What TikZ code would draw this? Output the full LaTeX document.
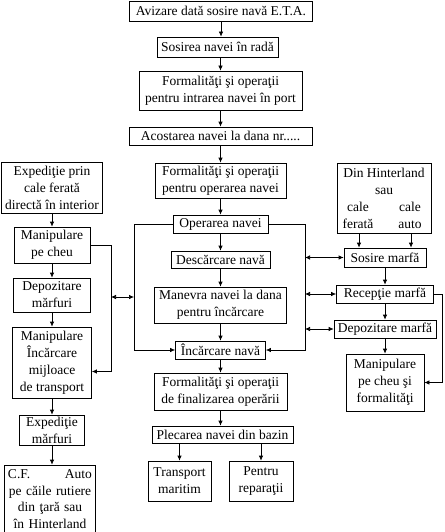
\documentclass[tikz,border=0pt]{standalone}
\usepackage{fontspec}
\setmainfont{Liberation Serif}
\usepackage{tikz}
\usetikzlibrary{
    calc,positioning,arrows.meta,shadows
}
\tikzset{
    >={Latex[length=5pt,width=4.5pt]},
    etapa/.style={
        rectangle,
        draw=black,
        line width=0.7pt,
        fill=white,
        drop shadow={shadow xshift=0.9pt,shadow yshift=-0.9pt,fill=black,opacity=0.5},
        inner sep=1.5pt,
        align=center,
        font={\fontsize{13.5pt}{17pt}\selectfont}
    },
    flux/.style={draw, line width=0.7pt, ->},
    dublu/.style={draw, line width=0.7pt, <->},
}

\begin{document}
\begin{tikzpicture}[x=1pt,y=-1pt]
\useasboundingbox (0,0) rectangle (444,532);

% coloana centrala
\node[etapa,minimum width=183pt,minimum height=20pt] (aviz) at (221,11) {Avizare dată sosire navă E.T.A.};
\node[etapa,minimum width=121pt,minimum height=20pt] (rada) at (217.5,47) {Sosirea navei în radă};
\node[etapa,minimum width=163pt,minimum height=39pt] (intrare) at (220.5,90.5) {Formalităţi şi operaţii\\pentru intrarea navei în port};
\node[etapa,minimum width=183pt,minimum height=18pt] (acostare) at (220.5,136) {Acostarea navei la dana nr.....};
\node[etapa,minimum width=131pt,minimum height=35pt] (opform) at (220.5,180.5) {Formalităţi şi operaţii\\pentru operarea navei};
\node[etapa,minimum width=95pt,minimum height=18pt] (operarea) at (220.5,224) {Operarea navei};
\node[etapa,minimum width=99pt,minimum height=17pt] (descarcare) at (220.5,259.5) {Descărcare navă};
\node[etapa,minimum width=132pt,minimum height=36pt] (manevra) at (220.5,305) {Manevra navei la dana\\pentru încărcare};
\node[etapa,minimum width=90pt,minimum height=18pt] (incarcare) at (220.5,350) {Încărcare navă};
\node[etapa,minimum width=133pt,minimum height=37pt] (final) at (220.5,391.5) {Formalităţi şi operaţii\\de finalizarea operării};
\node[etapa,minimum width=141pt,minimum height=17pt] (plecare) at (222.5,434.5) {Plecarea navei din bazin};
\node[etapa,minimum width=63pt,minimum height=40pt] (transport) at (179.5,481) {Transport\\maritim};
\node[etapa,minimum width=64pt,minimum height=40pt] (reparatii) at (261,481) {Pentru\\reparaţii};

% coloana stanga
\node[etapa,minimum width=101pt,minimum height=51pt] (expcf) at (52,187.5) {Expediţie prin\\cale ferată\\directă în interior};
\node[etapa,minimum width=76pt,minimum height=36pt] (manipcheu) at (52,245) {Manipulare\\pe cheu};
\node[etapa,minimum width=77pt,minimum height=34pt] (depoz) at (52,295) {Depozitare\\mărfuri};
\node[etapa,minimum width=79pt,minimum height=71pt] (manipinc) at (52,362.5) {Manipulare\\Încărcare\\mijloace\\de transport};
\node[etapa,minimum width=65pt,minimum height=30pt] (expmarf) at (52,430) {Expediţie\\mărfuri};
\node[etapa,minimum width=91pt,minimum height=68pt,text width=84pt,font={\fontsize{13.5pt}{16.5pt}\selectfont}] (cfauto) at (50,499) {C.F.\hfill Auto\\pe căile rutiere\\din ţară sau\\în Hinterland};

% coloana dreapta
\node[etapa,minimum width=94pt,minimum height=70pt] (hinter) at (384,198) {Din Hinterland\\sau\\\makebox[0pt]{cale}\hspace{52pt}\makebox[0pt]{cale}\\\makebox[0pt]{ferată}\hspace{52pt}\makebox[0pt]{auto}};
\node[etapa,minimum width=82pt,minimum height=19pt] (sosire) at (385,257.5) {Sosire marfă};
\node[etapa,minimum width=97pt,minimum height=18pt] (receptie) at (385,294) {Recepţie marfă};
\node[etapa,minimum width=102pt,minimum height=18pt] (depmarfa) at (385,329) {Depozitare marfă};
\node[etapa,minimum width=78pt,minimum height=57pt] (manipform) at (385,382.5) {Manipulare\\pe cheu şi\\formalităţi};

\coordinate (busst) at (134,224);
\coordinate (busdr) at (305,224);
\coordinate (buscheu) at (111,245);

\draw[flux] (aviz) -- (aviz |- rada.north);
\draw[flux] (rada.south -| intrare) -- (intrare);
\draw[flux] (intrare) -- (acostare);
\draw[flux] (acostare) -- (opform);
\draw[flux] (opform) -- (operarea);
\draw[flux] (operarea) -- (descarcare);
\draw[flux] (descarcare) -- (manevra);
\draw[flux] (manevra) -- (incarcare);
\draw[flux] (incarcare) -- (final);
\draw[flux] (final.south) -- (final.south |- plecare.north);
\draw[flux] (plecare.south -| transport) -- (transport);
\draw[flux] (plecare.south -| reparatii) -- (reparatii);
\draw[flux] (operarea.west) -- (busst) |- (incarcare.west);
\draw[flux] (operarea.east) -- (busdr) |- (incarcare.east);

\draw[flux] (expcf) -- (manipcheu);
\draw[flux] (manipcheu) -- (depoz);
\draw[flux] (depoz) -- (manipinc);
\draw[flux] (manipinc) -- (expmarf);
\draw[flux] (expmarf.south) -- (expmarf.south |- cfauto.north);
\draw[flux] (manipcheu.east) -- (buscheu) |- ([yshift=-9pt]manipinc.east);
\draw[dublu] (buscheu |- 0,297) -- (busst |- 0,297);

\draw[flux] ([xshift=-25pt]hinter.south) -- ([xshift=-25pt]hinter.south |- sosire.north);
\draw[flux] ([xshift=27pt]hinter.south) -- ([xshift=27pt]hinter.south |- sosire.north);
\draw[flux] (sosire) -- (receptie);
\draw[flux] (receptie) -- (depmarfa);
\draw[flux] (depmarfa) -- (manipform);
\draw[flux] (receptie.east) -- ++(8,0) |- (manipform.east);
\draw[dublu] (busdr |- sosire.west) -- (sosire.west);
\draw[dublu] (busdr |- receptie.west) -- (receptie.west);
\draw[dublu] (busdr |- depmarfa.west) -- (depmarfa.west);
\end{tikzpicture}
\end{document}
